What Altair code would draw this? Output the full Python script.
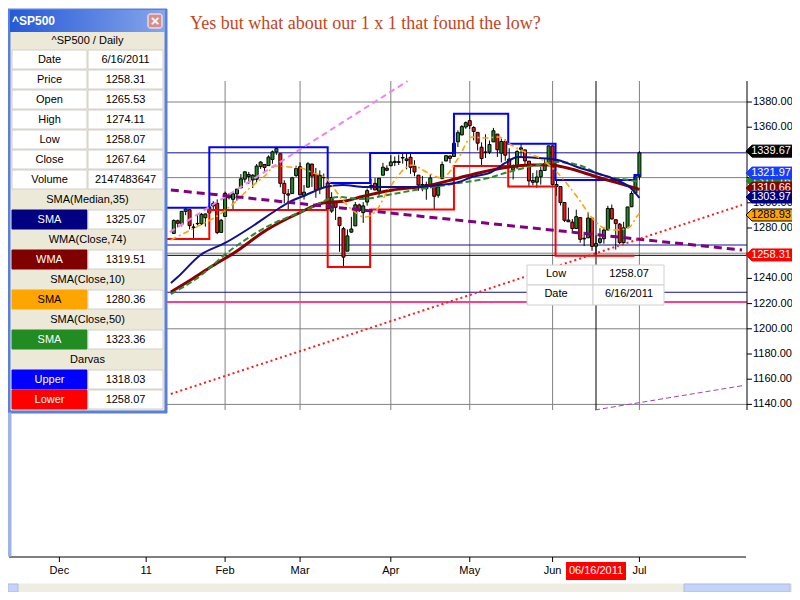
import altair as alt
import pandas as pd

# ---------------- data ----------------
# trading-day index: 0 = 1 Dec 2010; first visible candle = 12 Jan 2011
FIRST_INDEX = 29

opens = [
    1275.65, 1285.78, 1282.90, 1293.22, 1294.52, 1280.85, 1283.63, 1283.29, 1288.17, 1291.97,
    1297.51, 1299.63, 1276.50, 1289.14, 1305.91, 1302.77, 1307.01, 1311.85, 1318.76, 1322.48,
    1318.13, 1318.66, 1328.73, 1330.43, 1329.51, 1334.37, 1340.38, 1338.91, 1315.44, 1307.09,
    1307.34, 1321.61, 1328.64, 1305.47, 1312.37, 1330.73, 1322.72, 1311.05, 1319.92, 1315.72,
    1293.43, 1301.19, 1288.46, 1279.46, 1261.61, 1276.71, 1281.65, 1298.29, 1292.19, 1300.61,
    1311.80, 1315.45, 1309.37, 1321.89, 1327.44, 1329.48, 1332.03, 1332.03, 1335.94, 1334.82,
    1336.16, 1329.01, 1321.96, 1314.03, 1311.13, 1314.54, 1313.35, 1305.99, 1319.12, 1333.23,
    1337.14, 1336.75, 1348.43, 1353.86, 1360.14, 1365.21, 1359.76, 1355.90, 1344.16, 1340.24,
    1340.20, 1348.34, 1354.51, 1339.39, 1348.69, 1334.77, 1326.10, 1328.54, 1342.40, 1342.00,
    1333.07, 1317.70, 1316.36, 1320.64, 1325.69, 1331.10, 1345.20, 1314.55, 1312.94, 1300.26,
    1286.31, 1284.63, 1279.63, 1288.26, 1271.31, 1272.22, 1287.87, 1265.53, 1268.58, 1271.50,
    1278.40, 1295.48, 1286.60, 1283.04, 1268.44, 1280.21, 1296.85, 1307.64, 1320.64]
highs = [
    1286.87, 1286.70, 1293.24, 1296.06, 1294.60, 1283.35, 1291.21, 1291.93, 1291.26, 1299.74,
    1301.29, 1302.67, 1287.17, 1308.86, 1307.61, 1308.60, 1311.00, 1322.85, 1324.87, 1324.54,
    1322.78, 1330.79, 1332.96, 1330.43, 1337.61, 1341.50, 1344.07, 1338.91, 1317.91, 1310.91,
    1320.61, 1329.38, 1332.09, 1314.19, 1332.28, 1331.08, 1327.68, 1325.74, 1323.21, 1315.72,
    1308.35, 1301.19, 1288.46, 1280.91, 1278.88, 1288.88, 1300.58, 1299.35, 1300.51, 1311.34,
    1319.18, 1319.74, 1319.45, 1331.74, 1329.77, 1337.85, 1336.74, 1338.21, 1339.38, 1338.80,
    1339.46, 1333.77, 1321.96, 1321.35, 1316.79, 1322.88, 1313.35, 1312.70, 1332.66, 1337.49,
    1337.55, 1349.55, 1357.49, 1361.71, 1364.56, 1370.58, 1360.84, 1355.90, 1348.00, 1354.36,
    1349.44, 1359.44, 1354.51, 1351.05, 1350.47, 1343.33, 1330.42, 1341.82, 1346.82, 1342.00,
    1333.07, 1323.72, 1325.86, 1328.51, 1334.62, 1345.20, 1345.20, 1318.03, 1312.94, 1300.26,
    1296.22, 1287.04, 1294.54, 1288.26, 1277.04, 1292.50, 1287.87, 1274.11, 1279.82, 1280.42,
    1297.62, 1298.61, 1286.60, 1283.93, 1284.91, 1296.80, 1309.21, 1321.97, 1341.01]
lows = [
    1275.65, 1280.47, 1281.24, 1290.16, 1278.92, 1271.26, 1282.07, 1282.47, 1281.07, 1291.97,
    1294.41, 1275.10, 1276.50, 1289.14, 1302.62, 1294.83, 1301.67, 1311.85, 1316.03, 1314.89,
    1311.74, 1316.08, 1326.90, 1324.61, 1329.51, 1331.00, 1338.12, 1312.33, 1299.55, 1294.26,
    1307.34, 1320.55, 1306.14, 1302.58, 1312.37, 1312.59, 1303.99, 1306.86, 1312.27, 1294.21,
    1291.99, 1286.37, 1261.12, 1249.05, 1261.61, 1276.18, 1281.65, 1292.70, 1284.05, 1297.74,
    1310.15, 1310.19, 1305.26, 1321.89, 1325.03, 1328.89, 1329.10, 1330.03, 1331.09, 1326.56,
    1322.94, 1321.06, 1309.51, 1309.19, 1302.42, 1313.68, 1294.70, 1303.97, 1319.12, 1332.83,
    1331.47, 1336.75, 1344.25, 1353.60, 1358.69, 1358.59, 1349.52, 1341.50, 1329.17, 1335.58,
    1338.64, 1348.34, 1336.36, 1332.03, 1333.36, 1327.32, 1318.51, 1326.59, 1336.36, 1330.67,
    1312.88, 1313.87, 1311.80, 1314.41, 1325.69, 1331.10, 1313.71, 1305.61, 1297.90, 1284.72,
    1284.74, 1277.42, 1279.63, 1268.28, 1265.64, 1272.22, 1261.90, 1258.07, 1267.40, 1267.56,
    1278.40, 1286.79, 1262.87, 1267.24, 1267.53, 1280.21, 1296.85, 1307.64, 1318.18]
closes = [
    1285.96, 1283.76, 1293.24, 1295.02, 1281.92, 1280.26, 1283.35, 1290.84, 1291.18, 1296.63,
    1299.54, 1276.34, 1286.12, 1307.59, 1304.03, 1307.10, 1310.87, 1319.05, 1324.57, 1320.88,
    1321.87, 1329.15, 1332.32, 1328.01, 1336.32, 1340.43, 1343.01, 1315.44, 1307.40, 1306.10,
    1319.88, 1327.22, 1306.33, 1308.44, 1330.97, 1321.15, 1310.13, 1321.82, 1320.02, 1295.11,
    1304.28, 1296.39, 1281.87, 1256.88, 1273.72, 1279.21, 1298.38, 1293.77, 1297.54, 1309.66,
    1313.80, 1310.19, 1319.44, 1328.26, 1325.83, 1332.41, 1332.87, 1332.63, 1335.54, 1333.51,
    1328.17, 1324.46, 1314.16, 1314.41, 1314.52, 1319.68, 1305.14, 1312.62, 1330.36, 1337.38,
    1335.25, 1347.24, 1355.66, 1360.48, 1363.61, 1361.22, 1356.62, 1347.32, 1335.10, 1340.20,
    1346.29, 1357.16, 1342.08, 1348.65, 1337.77, 1329.47, 1328.98, 1340.68, 1343.60, 1333.27,
    1317.37, 1316.28, 1320.47, 1325.69, 1331.10, 1345.20, 1314.55, 1312.94, 1300.16, 1286.17,
    1284.94, 1279.56, 1289.00, 1270.98, 1271.83, 1287.87, 1265.42, 1267.64, 1271.50, 1278.36,
    1295.52, 1287.14, 1283.50, 1268.45, 1280.10, 1296.67, 1307.41, 1320.64, 1339.67]

month_ticks = [0, 22, 42, 61, 84, 104, 125, 147]
month_labels = ["Dec", "11", "Feb", "Mar", "Apr", "May", "Jun", "Jul"]
price_ticks = [1140, 1160, 1180, 1200, 1220, 1240, 1260, 1280, 1300, 1320, 1340, 1360, 1380]
price_labels_hidden = [1260, 1320, 1340]   # fully covered by the value tags in the reference
grid_levels = [1140, 1200, 1260, 1320, 1380]
cursor_index = 136
cursor_label = "06/16/2011"

# moving averages
sma35_i = [28.25, 30, 35.75, 42, 48.25, 55, 58.25, 62.5, 67.5, 71.75, 77.5, 81.25, 88.75, 96.25,
           101.25, 104.5, 109.5, 113, 116.25, 121.25, 126.25, 131.25, 136.25, 141.25, 144.5, 147]
sma35_v = [1236.3, 1241.1, 1258.6, 1268.1, 1280.0, 1294.3, 1300.6, 1306.2, 1312.5, 1314.1, 1312.5,
           1312.5, 1312.5, 1314.1, 1316.5, 1320.5, 1324.4, 1331.6, 1336.3, 1335.6, 1334.0, 1328.4,
           1323.5, 1318.1, 1312.5, 1303.97]
wma74_i = [28.25, 33.25, 38.75, 44.25, 52.5, 60.75, 66.75, 72.5, 76.25, 84.5, 93, 101.25, 106.25,
           113.75, 119.5, 124.5, 128.75, 136.25, 141.25, 144.5, 147]
wma74_v = [1229.2, 1238.7, 1249.8, 1260.2, 1278.4, 1291.9, 1299.8, 1301.4, 1304.6, 1310.2, 1313.3,
           1319.7, 1323.7, 1328.4, 1330.0, 1330.0, 1327.6, 1320.5, 1316.0, 1313.0, 1310.66]
sma10_i = [28.25, 31.75, 36.25, 40, 44.25, 48.25, 51.75, 55, 58.25, 61.25, 64.25, 67.5, 71.75, 74.25,
           77.5, 80, 83.75, 89.5, 93, 97, 101.25, 104.5, 108, 111.25, 114.5, 118, 121.25, 126.25,
           131.25, 135.5, 138, 141.25, 144.5, 146.25, 147]
sma10_v = [1270.5, 1276.0, 1283.2, 1289.5, 1299.8, 1311.7, 1320.5, 1329.2, 1328.4, 1327.6, 1323.7,
           1319.7, 1302.2, 1294.3, 1288.7, 1292.7, 1312.5, 1330.0, 1324.4, 1319.7, 1336.3, 1352.2,
           1351.4, 1352.2, 1345.9, 1340.3, 1336.3, 1323.7, 1304.6, 1286.3, 1280.0, 1278.4, 1280.8,
           1288.7, 1291.5]
sma50_i = [28.25, 34.25, 43.75, 52.5, 62.5, 70.75, 76.25, 84.5, 93, 101.25, 108.75, 113.75, 121.25,
           126.25, 133, 136.25, 139.5, 144.5, 147]
sma50_v = [1227.6, 1238.7, 1263.3, 1280.8, 1294.3, 1304.6, 1303.0, 1307.0, 1311.7, 1315.7, 1319.7,
           1324.4, 1330.0, 1332.4, 1328.4, 1323.4, 1320.5, 1318.1, 1316.5]

# Darvas boxes (step lines)
darvas_up_i = [27, 38, 68, 78.75, 100, 113.75, 125.75, 145.75, 147.25]
darvas_up_v = [1296.06, 1344.07, 1315.72, 1339.46, 1370.58, 1346.82, 1318.03, 1321.97, 1321.97]
darvas_lo_i = [27, 38, 68, 78.75, 100, 113.75, 125.75, 145.75]
darvas_lo_v = [1271.26, 1294.26, 1249.05, 1294.70, 1329.17, 1312.88, 1258.07, 1258.07]

# drawn trend lines (two end points each)
pink_i, pink_v = [28, 88.25], [1276.8, 1396.6]
purple_i, purple_v = [28.25, 173], [1310.2, 1262.5]
reddot_i, reddot_v = [28.25, 173], [1148.3, 1298.3]
thin_i, thin_v = [135.75, 173], [1135.6, 1154.8]

# horizontal level lines
level_values = [1339.67, 1266.5, 1258.31, 1229.0, 1221.3]
level_colors = ["#101090", "#101090", "#000000", "#101090", "#ff3d8b"]
level_widths = [1, 1, 1, 1, 2]

# right-axis value tags (drawing order)
tag_text = ["1311.16", "1310.66", "1303.97", "1321.97", "1339.67", "1288.93", "1258.31"]
tag_level = [1317.3, 1311.7, 1304.6, 1323.6, 1341.0, 1290.3, 1258.6]
tag_fill = ["#228b22", "#8b0000", "#000080", "#1a3cff", "#000000", "#ffa500", "#ff0000"]
tag_ink = ["white", "white", "white", "white", "white", "black", "white"]

# left info panel
info_labels = ["Date", "Price", "Open", "High", "Low", "Close", "Volume"]
info_values = ["6/16/2011", "1258.31", "1265.53", "1274.11", "1258.07", "1267.64", "2147483647"]
ind_groups = [("SMA(Median,35)", [0]), ("WMA(Close,74)", [1]), ("SMA(Close,10)", [2]),
              ("SMA(Close,50)", [3]), ("Darvas", [4, 5])]
ind_names = ["SMA", "WMA", "SMA", "SMA", "Upper", "Lower"]
ind_values = ["1325.07", "1319.51", "1280.36", "1323.36", "1318.03", "1258.07"]
ind_colors = ["#000080", "#800000", "#ffa500", "#228b22", "#0000ff", "#ff0000"]
ind_ink = ["white", "white", "black", "white", "white", "white"]

tip_labels = ["Low", "Date"]
tip_values = ["1258.07", "6/16/2011"]

title_text = "Yes but what about our 1 x 1 that found the low?"

# ---------------- layout helpers ----------------
FONT = "Liberation Sans"
W, H = 738, 476               # plot area (page x 9..747, y 81..557)
def P(X): return X - 9        # page x -> plot px
def Q(Y): return Y - 81       # page y -> plot px
V_TOP = 1380 + 21 / 1.26
V_BOT = 1380 - 455 / 1.26
V_GRID_BOT = 1380 - 308 / 1.26

xs = alt.Scale(domain=[-11.5, 173], nice=False, zero=False)
ys = alt.Scale(domain=[V_BOT, V_TOP], nice=False, zero=False)
one = pd.DataFrame({"a": [0]})

def X(f): return alt.X(f, scale=xs, axis=None)
def Y(f): return alt.Y(f, scale=ys, axis=None)

layers = []

# grid
layers.append(alt.Chart(pd.DataFrame({"v": grid_levels})).mark_rule(color="#808080", strokeWidth=1)
              .encode(y=Y("v:Q")))
vg = pd.DataFrame({"i": month_ticks, "top": V_TOP, "bot": V_GRID_BOT})
layers.append(alt.Chart(vg).mark_rule(color="#808080", strokeWidth=1)
              .encode(x=X("i:Q"), y=Y("top:Q"), y2="bot:Q"))

# level lines
lv = pd.DataFrame({"v": level_values, "c": level_colors, "w": level_widths})
layers.append(alt.Chart(lv).mark_rule().encode(
    y=Y("v:Q"), color=alt.Color("c:N", scale=None), strokeWidth=alt.StrokeWidth("w:Q", scale=None)))

# cursor line
cur = pd.DataFrame({"i": [cursor_index], "top": V_TOP, "bot": V_GRID_BOT})
layers.append(alt.Chart(cur).mark_rule(color="black", strokeWidth=1)
              .encode(x=X("i:Q"), y=Y("top:Q"), y2="bot:Q"))

# candles
n = len(closes)
cd = pd.DataFrame({"i": list(range(FIRST_INDEX, FIRST_INDEX + n)), "o": opens, "h": highs,
                   "l": lows, "c": closes})
cd["dir"] = ["up" if c >= o else "down" for o, c in zip(opens, closes)]
layers.append(alt.Chart(cd).mark_rule(color="black", strokeWidth=1)
              .encode(x=X("i:Q"), y=Y("l:Q"), y2="h:Q"))
layers.append(alt.Chart(cd).mark_bar(size=3, stroke="black", strokeWidth=1).encode(
    x=X("i:Q"), y=Y("o:Q"), y2="c:Q",
    color=alt.Color("dir:N", scale=alt.Scale(domain=["up", "down"], range=["#228b22", "#ff1010"]),
                    legend=None)))

def line(ii, vv, **kw):
    return alt.Chart(pd.DataFrame({"i": ii, "v": vv})).mark_line(**kw).encode(x=X("i:Q"), y=Y("v:Q"))

# Darvas
layers.append(line(darvas_lo_i, darvas_lo_v, color="#ff0000", strokeWidth=2, interpolate="step-after"))
layers.append(line(darvas_up_i, darvas_up_v, color="#0000ff", strokeWidth=2, interpolate="step-after"))

# moving averages
layers.append(line(wma74_i, wma74_v, color="#8b0000", strokeWidth=3, interpolate="monotone"))
layers.append(line(sma50_i, sma50_v, color="#2e8b2e", strokeWidth=2, strokeDash=[6, 3], interpolate="monotone"))
layers.append(line(sma35_i, sma35_v, color="#10108c", strokeWidth=2, interpolate="monotone"))
layers.append(line(sma10_i, sma10_v, color="#ffa500", strokeWidth=1.6, strokeDash=[6, 3, 2, 3], interpolate="monotone"))

# trend lines
layers.append(line(pink_i, pink_v, color="#ee82ee", strokeWidth=2, strokeDash=[6, 4]))
layers.append(line(purple_i, purple_v, color="#800080", strokeWidth=3, strokeDash=[8, 5]))
layers.append(line(reddot_i, reddot_v, color="#ff1a1a", strokeWidth=2, strokeDash=[2, 3]))
layers.append(line(thin_i, thin_v, color="#a040c0", strokeWidth=1, strokeDash=[5, 3]))

# right axis: line, ticks, labels
layers.append(alt.Chart(one).mark_rule(color="black", strokeWidth=1).encode(
    x=alt.value(W), y=alt.value(0), y2=alt.value(Q(410))))
pt = pd.DataFrame({"v": price_ticks, "t": ["%.2f" % v for v in price_ticks]})
pt_vis = pt[~pt["v"].isin(price_labels_hidden)]
layers.append(alt.Chart(pt).mark_rule(color="black", strokeWidth=1).encode(
    x=alt.value(W), x2=alt.value(W + 5), y=Y("v:Q")))
layers.append(alt.Chart(pt_vis).mark_text(font=FONT, fontSize=11, color="black", align="left",
                                          baseline="middle").encode(
    x=alt.value(W + 6), y=Y("v:Q"), text="t:N"))

# bottom axis: line, ticks, labels
layers.append(alt.Chart(one).mark_rule(color="black", strokeWidth=1).encode(
    x=alt.value(0), x2=alt.value(P(746)), y=alt.value(Q(557))))
mt = pd.DataFrame({"i": month_ticks, "t": month_labels})
layers.append(alt.Chart(mt).mark_rule(color="black", strokeWidth=1).encode(
    x=X("i:Q"), y=alt.value(Q(557)), y2=alt.value(Q(562))))
layers.append(alt.Chart(mt).mark_text(font=FONT, fontSize=11, color="black", align="center",
                                      baseline="middle").encode(
    x=X("i:Q"), y=alt.value(Q(571)), text="t:N"))

def rect_layer(rows, stroke_w=1):
    df = pd.DataFrame(rows)
    return alt.Chart(df).mark_rect(strokeWidth=stroke_w).encode(
        x=alt.X("x0:Q", scale=None), x2="x1:Q", y=alt.Y("y0:Q", scale=None), y2="y1:Q",
        color=alt.Color("fill:N", scale=None), stroke=alt.Stroke("stroke:N", scale=None))

def text_layer(rows, align="center", weight="normal", size=11, font=FONT):
    df = pd.DataFrame(rows)
    return alt.Chart(df).mark_text(align=align, baseline="middle", font=font, fontSize=size,
                                   fontWeight=weight).encode(
        x=alt.X("x:Q", scale=None), y=alt.Y("y:Q", scale=None), text="t:N",
        color=alt.Color("c:N", scale=None))

# tooltip box
tip_cells, tip_texts = [], []
for k in range(2):
    y0, y1 = 265 + 20 * k, 285 + 20 * k
    tip_cells.append(dict(x0=P(527), x1=P(593), y0=Q(y0), y1=Q(y1), fill="white", stroke="#d0d0d0"))
    tip_cells.append(dict(x0=P(593), x1=P(664), y0=Q(y0), y1=Q(y1), fill="white", stroke="#d0d0d0"))
    tip_texts.append(dict(x=P(556), y=Q(y0 + 9), t=tip_labels[k], c="black"))
    tip_texts.append(dict(x=P(629), y=Q(y0 + 9), t=tip_values[k], c="black"))
layers.append(rect_layer(tip_cells))
layers.append(text_layer(tip_texts))

# right-axis tags
TAG = "M-1,0L-0.75,-0.25L1,-0.25L1,0.25L-0.75,0.25Z"
for t, v, f, ink in zip(tag_text, tag_level, tag_fill, tag_ink):
    d = pd.DataFrame({"v": [v], "t": [t]})
    stroke = "black" if f == "#ffa500" else f
    layers.append(alt.Chart(d).mark_point(shape=TAG, size=2304, filled=True, fill=f, stroke=stroke,
                                          strokeWidth=1, opacity=1)
                  .encode(x=alt.value(P(770)), y=Y("v:Q")))
    layers.append(alt.Chart(d).mark_text(font=FONT, fontSize=11, color=ink, align="center",
                                         baseline="middle")
                  .encode(x=alt.value(P(771)), y=Y("v:Q"), text="t:N"))

# date label on x axis
dl = pd.DataFrame({"i": [cursor_index], "t": [cursor_label]})
layers.append(alt.Chart(dl).mark_point(shape="M-1,-0.276L1,-0.276L1,0.276L-1,0.276Z", size=3364,
                                       filled=True, fill="#ff0000", stroke="#ff0000", opacity=1)
              .encode(x=X("i:Q"), y=alt.value(Q(571))))
layers.append(alt.Chart(dl).mark_text(font=FONT, fontSize=11, color="white", baseline="middle")
              .encode(x=X("i:Q"), y=alt.value(Q(571)), text="t:N"))

# ---------------- left panel ----------------
cells = [dict(x0=P(8), x1=P(167), y0=Q(9), y1=Q(413), fill="#5b7fdc", stroke="#5b7fdc"),
         dict(x0=P(11), x1=P(164), y0=Q(32), y1=Q(410), fill="#ece9d8", stroke="#ece9d8")]
ptexts = [dict(x=P(87.5), y=Q(41), t="^SP500 / Daily", c="black")]
row = 0
def add_pair(lbl, val, lfill, lstroke, ink):
    global row
    y0, y1 = 50 + 20 * row, 70 + 20 * row
    cells.append(dict(x0=P(12), x1=P(87), y0=Q(y0), y1=Q(y1 - 1), fill=lfill, stroke=lstroke))
    cells.append(dict(x0=P(88), x1=P(163), y0=Q(y0), y1=Q(y1 - 1), fill="white", stroke="#d4d0c8"))
    ptexts.append(dict(x=P(49.5), y=Q(y0 + 10), t=lbl, c=ink))
    ptexts.append(dict(x=P(125.5), y=Q(y0 + 10), t=val, c="black"))
    row += 1
for lbl, val in zip(info_labels, info_values):
    add_pair(lbl, val, "white", "#d4d0c8", "black")
for hdr, members in ind_groups:
    ptexts.append(dict(x=P(87.5), y=Q(60 + 20 * row), t=hdr, c="black"))
    row += 1
    for m in members:
        add_pair(ind_names[m], ind_values[m], ind_colors[m], ind_colors[m], ind_ink[m])

layers.append(rect_layer(cells))
grad = alt.LinearGradient(gradient="linear", x1=0, x2=1, y1=0, y2=0,
                          stops=[alt.GradientStop(color="#2459d8", offset=0),
                                 alt.GradientStop(color="#5f86e2", offset=0.6),
                                 alt.GradientStop(color="#86a6ea", offset=1)])
layers.append(alt.Chart(one).mark_rect(fill=grad).encode(
    x=alt.value(P(10)), x2=alt.value(P(165)), y=alt.value(Q(10)), y2=alt.value(Q(32))))
layers.append(alt.Chart(one).mark_rect(fill="#d98c8c", stroke="white", strokeWidth=1,
                                       cornerRadius=2).encode(
    x=alt.value(P(148)), x2=alt.value(P(162)), y=alt.value(Q(14)), y2=alt.value(Q(28))))
layers.append(text_layer([dict(x=P(155), y=Q(21), t="\u00d7", c="white")], weight="bold", size=15))
layers.append(text_layer([dict(x=P(12), y=Q(21), t="^SP500", c="white")], align="left",
                         weight="bold", size=12))
layers.append(text_layer(ptexts))

# window chrome: splitter and scrollbar
chrome = [dict(x0=P(8), x1=P(11), y0=Q(413), y1=Q(556), fill="#9fb3ea", stroke="#9fb3ea"),
          dict(x0=P(8), x1=P(792), y0=Q(584), y1=Q(592), fill="#efede2", stroke="#efede2"),
          dict(x0=P(8), x1=P(18), y0=Q(584), y1=Q(592), fill="#c4d4f8", stroke="#a9bde9"),
          dict(x0=P(684), x1=P(790), y0=Q(584), y1=Q(592), fill="#c4d4f8", stroke="#a9bde9")]
layers.append(rect_layer(chrome))

# title
layers.append(alt.Chart(one).mark_text(text=title_text, font="Liberation Serif", fontSize=18,
                                       color="#c5441c", align="left", baseline="alphabetic")
              .encode(x=alt.value(P(190)), y=alt.value(Q(28.7))))

chart = alt.layer(*layers).properties(
    width=W, height=H,
    padding={"left": 1, "top": 73, "right": 45, "bottom": 35},
    autosize=alt.AutoSizeParams(type="none"),
    background="white",
).configure_view(stroke=None)

chart.save("out.html", embed_options={"renderer": "svg", "actions": False})
